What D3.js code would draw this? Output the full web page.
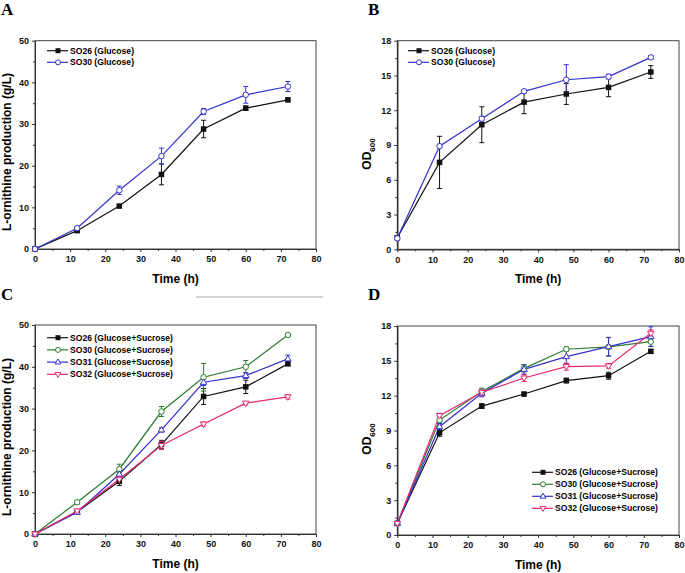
<!DOCTYPE html>
<html>
<head>
<meta charset="utf-8">
<script src="https://cdn.jsdelivr.net/npm/d3@7"></script>
<style>
  body { margin: 0; background: #fff; }
  svg text { font-family: "Liberation Sans", Arial, sans-serif; }
  .tick text { font-weight: bold; font-size: 9px; fill: #111; }
  .panel-label { font-family: "Liberation Serif", "Times New Roman", serif !important; font-weight: bold; font-size: 17px; }
  .axis-title { font-weight: bold; font-size: 12px; }
  .legend text { font-weight: bold; font-size: 8.6px; }
</style>
</head>
<body>
<svg width="685" height="573"></svg>
<script>
// sampling times (h)
const hours = [0, 12, 24, 36, 48, 60, 72];
const xTicks = [0, 10, 20, 30, 40, 50, 60, 70, 80];
const prodTicks = [0, 10, 20, 30, 40, 50];
const odTicks = [0, 3, 6, 9, 12, 15, 18];

// panel A: L-ornithine, glucose
const aSO26 = [0, 4.4, 10.3, 17.9, 28.8, 33.8, 35.8];
const aSO26err = [0, 0.3, 0.3, 2.5, 2.1, 0.5, 0.4];
const aSO30 = [0, 5.0, 14.1, 22.3, 33.0, 37.0, 39.0];
const aSO30err = [0, 0.4, 1.0, 1.9, 0.7, 2.0, 1.2];

// panel B: OD600, glucose
const bSO26 = [1.0, 7.5, 10.75, 12.7, 13.4, 13.97, 15.3];
const bSO26err = [0.1, 2.25, 1.55, 1.0, 0.9, 0.8, 0.55];
const bSO30 = [0.95, 8.9, 11.27, 13.63, 14.63, 14.9, 16.56];
const bSO30err = [0.1, 0.15, 0.2, 0.15, 1.3, 0.2, 0.15];

// panel C: L-ornithine, glucose+sucrose
const cSO26 = [0, 5.3, 12.6, 21.4, 32.9, 35.2, 40.7];
const cSO26err = [0, 0.4, 1.0, 1.0, 1.9, 1.6, 0.4];
const cSO30 = [0, 7.6, 15.5, 29.3, 37.5, 40.0, 47.6];
const cSO30err = [0, 0.4, 1.2, 1.2, 3.3, 1.5, 0.3];
const cSO31 = [0, 5.2, 14.3, 24.9, 36.3, 37.9, 41.9];
const cSO31err = [0, 0.3, 0.5, 0.5, 0.8, 0.7, 0.9];
const cSO32 = [0, 5.5, 13.1, 21.2, 26.3, 31.3, 32.8];
const cSO32err = [0, 0.4, 0.5, 1.0, 0.5, 0.4, 0.5];

// panel D: OD600, glucose+sucrose
const dSO26 = [1.0, 8.8, 11.1, 12.14, 13.3, 13.72, 15.82];
const dSO26err = [0.1, 0.3, 0.2, 0.15, 0.2, 0.3, 0.15];
const dSO30 = [1.0, 9.9, 12.35, 14.35, 16.0, 16.2, 16.65];
const dSO30err = [0.1, 0.3, 0.3, 0.3, 0.2, 0.8, 0.4];
const dSO31 = [1.0, 9.33, 12.2, 14.27, 15.36, 16.22, 17.08];
const dSO31err = [0.1, 0.3, 0.3, 0.4, 0.6, 0.8, 0.85];
const dSO32 = [1.0, 10.28, 12.29, 13.52, 14.5, 14.56, 17.37];
const dSO32err = [0.1, 0.2, 0.3, 0.3, 0.3, 0.2, 0.3];

const cBlack = "#111111", cBlue = "#3232cf", cGreen = "#2b7b30", cPink = "#e8276f";

const svg = d3.select("svg");

function drawMarker(g, shape, color, size) {
  if (shape === "square") {
    g.append("rect").attr("x", -size/2).attr("y", -size/2)
      .attr("width", size).attr("height", size).attr("fill", color);
  } else if (shape === "circle") {
    g.append("circle").attr("r", size/2).attr("fill", "#fff")
      .attr("stroke", color).attr("stroke-width", 1);
  } else {
    let s = size * 0.62;
    let pts = shape === "up" ? [[0,-s],[s*0.95,s*0.6],[-s*0.95,s*0.6]]
                             : [[0,s],[s*0.95,-s*0.6],[-s*0.95,-s*0.6]];
    g.append("path").attr("d", d3.line()(pts) + "Z").attr("fill", "#fff")
      .attr("stroke", color).attr("stroke-width", 1);
  }
}

function drawPanel(p) {
  let x = d3.scaleLinear().domain([0, 80]).range([p.left, p.right]);
  let y = d3.scaleLinear().domain([0, p.ymax]).range([p.bottom, p.top]);
  let g = svg.append("g");

  // frame
  g.append("rect").attr("x", p.left).attr("y", p.top)
    .attr("width", p.right - p.left).attr("height", p.bottom - p.top)
    .attr("fill", "none").attr("stroke", "#444").attr("stroke-width", 1);

  // axes, major + minor ticks outward
  let xa = g.append("g").attr("transform", "translate(0," + p.bottom + ")")
    .call(d3.axisBottom(x).tickValues(xTicks).tickSizeInner(3).tickSizeOuter(0).tickPadding(4));
  g.append("g").attr("transform", "translate(0," + p.bottom + ")")
    .call(d3.axisBottom(x).tickValues(d3.range(5, 80, 10)).tickSize(2).tickSizeOuter(0).tickFormat(""));
  let ya = g.append("g").attr("transform", "translate(" + p.left + ",0)")
    .call(d3.axisLeft(y).tickValues(p.yticks).tickSizeInner(3).tickSizeOuter(0).tickPadding(3));
  let step = p.yticks[1] - p.yticks[0];
  g.append("g").attr("transform", "translate(" + p.left + ",0)")
    .call(d3.axisLeft(y).tickValues(p.yticks.slice(0, -1).map(function(v) { return v + step/2; }))
      .tickSize(2).tickSizeOuter(0).tickFormat(""));
  g.selectAll(".domain").attr("stroke", "#333");
  g.selectAll(".tick line").attr("stroke", "#333");

  // series
  p.series.forEach(function(s) {
    let pts = hours.map(function(h, i) { return [x(h), y(s.values[i]), s.err[i]]; });
    g.append("path").attr("d", d3.line()(pts.map(function(d) { return [d[0], d[1]]; })))
      .attr("fill", "none").attr("stroke", s.color).attr("stroke-width", 1.2);
    hours.forEach(function(h, i) {
      let e = s.err[i];
      if (e <= 0) return;
      let y0 = y(s.values[i] - e), y1 = y(s.values[i] + e), cx = x(h);
      g.append("path")
        .attr("d", "M" + cx + "," + y0 + "V" + y1 + "M" + (cx-2.5) + "," + y0 + "H" + (cx+2.5) +
                   "M" + (cx-2.5) + "," + y1 + "H" + (cx+2.5))
        .attr("stroke", s.color).attr("stroke-width", 1).attr("fill", "none");
    });
  });
  p.series.forEach(function(s) {
    hours.forEach(function(h, i) {
      let m = g.append("g").attr("transform", "translate(" + x(h) + "," + y(s.values[i]) + ")");
      drawMarker(m, s.shape, s.color, 5.5);
    });
  });

  // legend
  let lg = g.append("g").attr("class", "legend");
  p.series.forEach(function(s, i) {
    let ly = p.legend.y + i * p.legend.dy;
    lg.append("line").attr("x1", p.legend.x).attr("x2", p.legend.x + 21)
      .attr("y1", ly).attr("y2", ly).attr("stroke", s.color).attr("stroke-width", 1.2);
    let m = lg.append("g").attr("transform", "translate(" + (p.legend.x + 11) + "," + ly + ")");
    drawMarker(m, s.shape, s.color, 5);
    lg.append("text").attr("x", p.legend.x + 23).attr("y", ly + 3).text(s.name);
  });

  // titles
  g.append("text").attr("class", "axis-title").attr("text-anchor", "middle")
    .attr("x", (p.left + p.right) / 2).attr("y", p.bottom + 34).text("Time (h)");
  let yt = g.append("text").attr("class", "axis-title").attr("text-anchor", "middle")
    .attr("transform", "translate(" + p.ytitleX + "," + p.ytitleY + ") rotate(-90)");
  if (p.od) {
    yt.append("tspan").text("OD");
    yt.append("tspan").attr("dy", 3.5).attr("font-size", "8px").text("600");
  } else {
    yt.text("L-ornithine production (g/L)");
  }
  svg.append("text").attr("class", "panel-label").attr("x", p.labelX).attr("y", p.labelY).text(p.label);
}

drawPanel({
  label: "A", labelX: 1, labelY: 15,
  left: 35, right: 316, top: 40.7, bottom: 249, ymax: 50, yticks: prodTicks,
  ytitleX: 11, ytitleY: 152,
  legend: { x: 47, y: 50.7, dy: 11.6 },
  series: [
    { name: "SO26 (Glucose)", values: aSO26, err: aSO26err, color: cBlack, shape: "square" },
    { name: "SO30 (Glucose)", values: aSO30, err: aSO30err, color: cBlue, shape: "circle" }
  ]
});

drawPanel({
  label: "B", labelX: 368, labelY: 15, od: true,
  left: 397.3, right: 679, top: 40.7, bottom: 249.3, ymax: 18, yticks: odTicks,
  ytitleX: 371, ytitleY: 154,
  legend: { x: 408, y: 50.7, dy: 11.6 },
  series: [
    { name: "SO26 (Glucose)", values: bSO26, err: bSO26err, color: cBlack, shape: "square" },
    { name: "SO30 (Glucose)", values: bSO30, err: bSO30err, color: cBlue, shape: "circle" }
  ]
});

drawPanel({
  label: "C", labelX: 1, labelY: 300,
  left: 35, right: 316, top: 325, bottom: 534, ymax: 50, yticks: prodTicks,
  ytitleX: 11, ytitleY: 437,
  legend: { x: 47, y: 337.7, dy: 12.2 },
  series: [
    { name: "SO26 (Glucose+Sucrose)", values: cSO26, err: cSO26err, color: cBlack, shape: "square" },
    { name: "SO30 (Glucose+Sucrose)", values: cSO30, err: cSO30err, color: cGreen, shape: "circle" },
    { name: "SO31 (Glucose+Sucrose)", values: cSO31, err: cSO31err, color: cBlue, shape: "up" },
    { name: "SO32 (Glucose+Sucrose)", values: cSO32, err: cSO32err, color: cPink, shape: "down" }
  ]
});

drawPanel({
  label: "D", labelX: 368, labelY: 300, od: true,
  left: 397.3, right: 679, top: 326, bottom: 535, ymax: 18, yticks: odTicks,
  ytitleX: 371, ytitleY: 439,
  legend: { x: 532, y: 472.3, dy: 12 },
  series: [
    { name: "SO26 (Glucose+Sucrose)", values: dSO26, err: dSO26err, color: cBlack, shape: "square" },
    { name: "SO30 (Glucose+Sucrose)", values: dSO30, err: dSO30err, color: cGreen, shape: "circle" },
    { name: "SO31 (Glucose+Sucrose)", values: dSO31, err: dSO31err, color: cBlue, shape: "up" },
    { name: "SO32 (Glucose+Sucrose)", values: dSO32, err: dSO32err, color: cPink, shape: "down" }
  ]
});

// stray grey rule above panel C (scan artefact in the original figure)
svg.append("line").attr("x1", 196).attr("x2", 323).attr("y1", 297).attr("y2", 297)
  .attr("stroke", "#aaa").attr("stroke-width", 1.2);
</script>
</body>
</html>
